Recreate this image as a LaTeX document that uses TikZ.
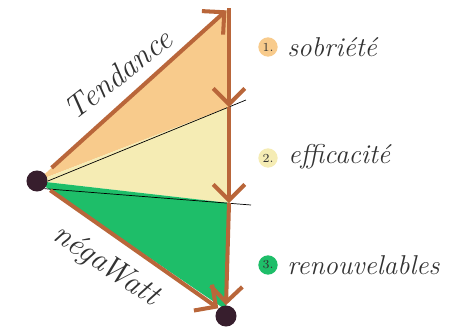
\documentclass[tikz,border=0pt]{standalone}
\usepackage{tikz}
\usetikzlibrary{arrows.meta}
\usepackage{xcolor}

\definecolor{sobcol}{RGB}{248,203,140}
\definecolor{effcol}{RGB}{245,236,180}
\definecolor{rencol}{RGB}{30,190,105}
\definecolor{arrcol}{RGB}{185,102,58}
\definecolor{dotcol}{RGB}{55,30,45}
\definecolor{inkcol}{RGB}{50,50,50}

\begin{document}
\begin{tikzpicture}[
  x=0.02cm, y=-0.02cm,
  font=\itshape\fontsize{15.5}{18}\selectfont,
  >={Straight Barb[length=9pt,width=18pt]},
  arr/.style={->, draw=arrcol, line width=2.3pt},
  dot/.style={circle, fill=dotcol, inner sep=0pt, minimum size=12pt},
  num/.style={circle, inner sep=0pt, minimum size=11pt, font=\fontsize{7}{8}\selectfont, text=inkcol},
  lbl/.style={anchor=west, text=inkcol, inner sep=0pt},
  diag/.style={text=inkcol, font=\itshape\fontsize{18}{20}\selectfont},
  sep/.style={draw=black, line width=0.4pt},
]
  \useasboundingbox (0,0) rectangle (457,332);

  \coordinate (top) at (229,8);
  \coordinate (c1) at (229,107);
  \coordinate (c2) at (229,203);
  \coordinate (l1) at (246,100);
  \coordinate (l2) at (251,205);
  \coordinate (bot) at (226,310);

  % zones
  \fill[sobcol] (37,181) -- (top) -- (c1) -- cycle;
  \fill[effcol] (37,181) -- (c1) -- (c2) -- cycle;
  \fill[rencol] (37,181) -- (c2) -- (bot) -- cycle;

  \node[dot] (start) at (37,181) {};
  \node[dot] (end) at (226,316) {};

  \draw[sep] (start.east) -- (l1);
  \draw[sep] (start.south east) -- (l2);

  \draw[arr, shorten <=5pt, shorten >=2pt] (start) -- (top);
  \draw[arr, shorten <=3pt] (start) -- (end.north west);
  \draw[arr] (top) -- (c1);
  \draw[arr] (c1) -- (c2);
  \draw[arr] (c2) -- (end.north);

  \node[diag, rotate=38] (tend) at (118,74) {Tendance};
  \node[diag, rotate=-34] (nega) at (106,266) {néga\kern-2ptWatt};

  \node[num, fill=sobcol] (n1) at (268,47) {1.};
  \node[num, fill=effcol] (n2) at (268,158) {2.};
  \node[num, fill=rencol] (n3) at (268,265) {3.};
  \node[lbl] (sob) at (287,47) {sobriété};
  \node[lbl] (eff) at (288,157) {efficacité};
  \node[lbl] (ren) at (287,265) {renouvelables};
\end{tikzpicture}
\end{document}
